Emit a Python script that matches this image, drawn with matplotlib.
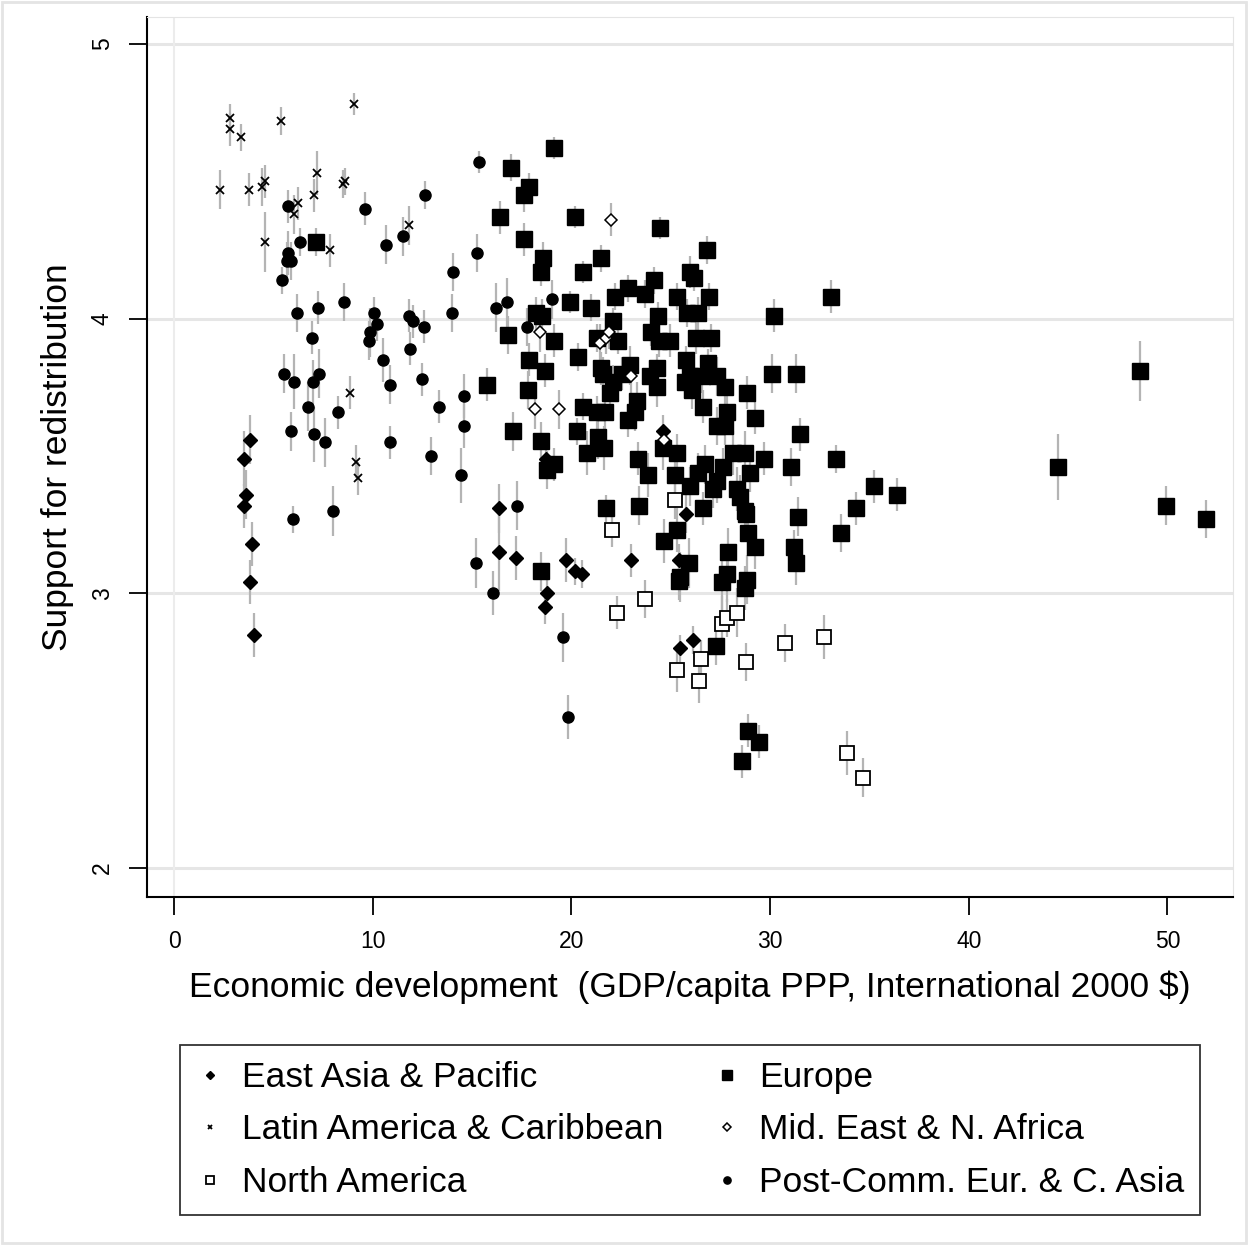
import matplotlib
matplotlib.use("Agg")
import matplotlib.pyplot as plt
from matplotlib.lines import Line2D
from matplotlib.patches import Rectangle

plt.rcParams['font.family'] = ['Liberation Sans', 'DejaVu Sans']

# ---- data: GDP/capita (thousands), support for redistribution, half-width of error bar
ea_x = [3.82, 3.52, 3.62, 3.52, 3.93, 3.82, 4.03, 16.36, 16.36, 17.21, 19.73, 20.18,
        20.53, 23.00, 18.77, 18.67, 25.77, 25.42, 26.12, 25.47, 24.61, 18.72]
ea_y = [3.56, 3.49, 3.36, 3.32, 3.18, 3.04, 2.85, 3.31, 3.15, 3.13, 3.12, 3.08,
        3.07, 3.12, 3.00, 2.95, 3.29, 3.12, 2.83, 2.80, 3.59, 3.49]
ea_e = [0.09, 0.10, 0.09, 0.08, 0.08, 0.08, 0.08, 0.09, 0.14, 0.08, 0.08, 0.05,
        0.05, 0.06, 0.06, 0.06, 0.07, 0.06, 0.05, 0.05, 0.06, 0.05]

la_x = [2.31, 2.82, 2.82, 3.37, 5.38, 9.06, 3.77, 4.43, 4.58, 4.58, 6.04, 6.24,
        7.05, 7.20, 7.85, 8.51, 8.61, 11.83, 8.86, 9.16, 9.26]
la_y = [4.47, 4.73, 4.69, 4.66, 4.72, 4.78, 4.47, 4.48, 4.50, 4.28, 4.38, 4.42,
        4.45, 4.53, 4.25, 4.49, 4.50, 4.34, 3.73, 3.48, 3.42]
la_e = [0.07, 0.05, 0.06, 0.05, 0.05, 0.04, 0.06, 0.07, 0.06, 0.11, 0.07, 0.06,
        0.06, 0.08, 0.06, 0.05, 0.05, 0.07, 0.06, 0.06, 0.06]

na_x = [22.04, 25.21, 22.29, 23.70, 25.31, 26.52, 26.42, 27.58, 27.83, 28.33, 28.79,
        30.75, 32.71, 33.87, 34.68]
na_y = [3.23, 3.34, 2.93, 2.98, 2.72, 2.76, 2.68, 2.89, 2.91, 2.93, 2.75,
        2.82, 2.84, 2.42, 2.33]
na_e = [0.06, 0.07, 0.06, 0.07, 0.08, 0.07, 0.08, 0.10, 0.07, 0.09, 0.07,
        0.07, 0.08, 0.08, 0.07]

me_x = [21.99, 18.42, 18.17, 19.38, 21.44, 21.74, 21.89, 23.00, 24.66]
me_y = [4.36, 3.95, 3.67, 3.67, 3.91, 3.93, 3.95, 3.79, 3.56]
me_e = [0.06, 0.07, 0.07, 0.07, 0.07, 0.06, 0.06, 0.06, 0.05]

pc_x = [5.74, 9.61, 6.34, 5.74, 5.69, 5.89, 5.44, 10.67, 11.52, 6.19, 7.25, 8.56,
        10.07, 10.22, 9.86, 9.81, 6.95, 10.52, 11.88, 11.83, 12.03, 12.58, 5.54,
        6.04, 7.00, 7.30, 6.74, 8.25, 5.89, 7.05, 7.60, 10.87, 12.48, 13.34, 10.87,
        12.93, 5.99, 8.00, 12.63, 15.35, 15.25, 14.04, 13.99, 16.21, 16.76, 19.02,
        17.77, 14.59, 14.59, 14.44, 17.26, 15.20, 16.05, 19.58, 19.83]
pc_y = [4.41, 4.40, 4.28, 4.24, 4.21, 4.21, 4.14, 4.27, 4.30, 4.02, 4.04, 4.06,
        4.02, 3.98, 3.95, 3.92, 3.93, 3.85, 3.89, 4.01, 3.99, 3.97, 3.80,
        3.77, 3.77, 3.80, 3.68, 3.66, 3.59, 3.58, 3.55, 3.76, 3.78, 3.68, 3.55,
        3.50, 3.27, 3.30, 4.45, 4.57, 4.24, 4.17, 4.02, 4.04, 4.06, 4.07,
        3.97, 3.72, 3.61, 3.43, 3.32, 3.11, 3.00, 2.84, 2.55]
pc_e = [0.06, 0.06, 0.05, 0.08, 0.07, 0.07, 0.05, 0.07, 0.07, 0.07, 0.06, 0.07,
        0.06, 0.06, 0.09, 0.07, 0.06, 0.08, 0.06, 0.06, 0.06, 0.06, 0.07,
        0.10, 0.08, 0.09, 0.09, 0.06, 0.07, 0.10, 0.09, 0.07, 0.06, 0.06, 0.06,
        0.07, 0.05, 0.09, 0.05, 0.04, 0.07, 0.07, 0.07, 0.09, 0.09, 0.07,
        0.07, 0.08, 0.08, 0.10, 0.09, 0.09, 0.08, 0.09, 0.08]

eu_x = [19.12, 16.96, 17.87, 17.61, 16.41, 20.18, 17.61, 18.57, 18.47, 21.49, 20.58,
        24.46, 26.82, 25.97, 26.17, 22.85, 22.19, 24.16, 23.70, 25.31, 26.92, 19.93,
        20.99, 30.20, 22.09, 24.36, 25.82, 26.37, 24.01, 21.29, 22.35, 24.41, 24.96,
        26.27, 27.03, 20.33, 25.77, 21.49, 22.95, 22.55, 24.31, 26.87, 30.10, 25.97,
        27.33, 22.09, 21.94, 23.96, 24.31, 25.72, 26.07, 27.73, 28.84, 20.58, 21.29,
        21.69, 23.30, 23.20, 22.85, 26.62, 27.83, 29.24, 27.33, 27.73, 20.28, 21.34,
        21.64, 20.79, 24.61, 25.31, 28.13, 28.74, 29.69, 23.35, 26.72, 27.63, 23.85,
        25.21, 26.37, 28.99, 25.97, 27.33, 27.13, 28.33, 28.49, 28.74, 28.79, 21.74,
        23.40, 26.62, 25.31, 24.66, 28.89, 29.24, 27.88, 25.92, 25.47, 25.42, 27.83,
        27.58, 28.84, 28.74, 27.28, 28.89, 29.44, 28.59, 31.50, 31.05, 33.32, 35.23,
        34.32, 33.57, 31.40, 31.20, 31.30, 33.06, 36.39, 44.49, 48.62, 49.92, 51.94,
        7.15, 15.75, 17.82, 17.06, 18.47, 18.77, 19.12, 18.47, 18.22, 18.52, 16.81,
        19.12, 17.87, 18.67, 21.59, 26.57, 31.30]
eu_y = [4.62, 4.55, 4.48, 4.45, 4.37, 4.37, 4.29, 4.22, 4.17, 4.22, 4.17,
        4.33, 4.25, 4.17, 4.15, 4.11, 4.08, 4.14, 4.09, 4.08, 4.08, 4.06,
        4.04, 4.01, 3.99, 4.01, 4.02, 4.02, 3.95, 3.93, 3.92, 3.92, 3.92,
        3.93, 3.93, 3.86, 3.85, 3.82, 3.83, 3.80, 3.82, 3.84, 3.80, 3.79,
        3.79, 3.77, 3.73, 3.79, 3.75, 3.77, 3.74, 3.75, 3.73, 3.68, 3.66,
        3.66, 3.70, 3.66, 3.63, 3.68, 3.66, 3.64, 3.61, 3.61, 3.59, 3.57,
        3.53, 3.51, 3.53, 3.51, 3.51, 3.51, 3.49, 3.49, 3.47, 3.46, 3.43,
        3.43, 3.44, 3.44, 3.39, 3.41, 3.38, 3.38, 3.35, 3.30, 3.29, 3.31,
        3.32, 3.31, 3.23, 3.19, 3.22, 3.17, 3.15, 3.11, 3.06, 3.045, 3.07,
        3.04, 3.05, 3.02, 2.81, 2.50, 2.46, 2.39, 3.58, 3.46, 3.49, 3.39,
        3.31, 3.22, 3.28, 3.17, 3.11, 4.08, 3.36, 3.46, 3.81, 3.32, 3.27,
        4.28, 3.76, 3.74, 3.59, 3.555, 3.45, 3.47, 3.08, 4.02, 4.01, 3.94,
        3.92, 3.85, 3.81, 3.80, 3.79, 3.80]
eu_e = [0.04, 0.05, 0.05, 0.06, 0.06, 0.04, 0.06, 0.06, 0.05, 0.05, 0.04,
        0.04, 0.05, 0.06, 0.05, 0.05, 0.05, 0.05, 0.05, 0.05, 0.05, 0.04,
        0.05, 0.06, 0.05, 0.05, 0.05, 0.06, 0.05, 0.05, 0.05, 0.06, 0.06,
        0.06, 0.05, 0.05, 0.05, 0.06, 0.07, 0.06, 0.05, 0.05, 0.07, 0.08,
        0.07, 0.06, 0.07, 0.06, 0.07, 0.06, 0.07, 0.07, 0.06, 0.05, 0.06,
        0.06, 0.07, 0.07, 0.06, 0.06, 0.06, 0.06, 0.07, 0.07, 0.05, 0.08,
        0.08, 0.08, 0.08, 0.07, 0.08, 0.08, 0.06, 0.06, 0.07, 0.07, 0.08,
        0.08, 0.07, 0.07, 0.07, 0.08, 0.07, 0.08, 0.08, 0.08, 0.07, 0.05,
        0.07, 0.06, 0.08, 0.08, 0.08, 0.08, 0.09, 0.09, 0.09, 0.07, 0.10,
        0.10, 0.09, 0.08, 0.07, 0.06, 0.06, 0.06, 0.06, 0.07, 0.05, 0.06,
        0.06, 0.07, 0.07, 0.06, 0.08, 0.06, 0.06, 0.12, 0.11, 0.07, 0.07,
        0.05, 0.06, 0.07, 0.07, 0.07, 0.07, 0.06, 0.07, 0.06, 0.06, 0.07,
        0.06, 0.06, 0.06, 0.06, 0.06, 0.07]

legend_labels = ["East Asia & Pacific", "Latin America & Caribbean", "North America",
                 "Europe", "Mid. East & N. Africa", "Post-Comm. Eur. & C. Asia"]

# ---- figure
fig = plt.figure(figsize=(12.48, 12.45), dpi=100)
fig.patches.append(Rectangle((0.002, 0.002), 0.996, 0.996, transform=fig.transFigure,
                             fill=False, edgecolor='#e4e4e4', linewidth=2))
ax = fig.add_axes([0.1178, 0.2795, 0.8702, 0.7068])

for yv in [2, 3, 4, 5]:
    ax.axhline(yv, color='#e6e6e6', linewidth=2.2, zorder=0)
ax.axvline(0, color='#ececec', linewidth=1.5, zorder=0)

ebar_col = '#b4b4b4'
groups = [
    (ea_x, ea_y, ea_e, dict(marker='D', markersize=7, color='black')),
    (la_x, la_y, la_e, dict(marker='x', markersize=5.5, color='black', markeredgewidth=1.3)),
    (na_x, na_y, na_e, dict(marker='s', markersize=9.5, markerfacecolor='white',
                            markeredgecolor='black', markeredgewidth=1.3)),
    (eu_x, eu_y, eu_e, dict(marker='s', markersize=11, color='black')),
    (me_x, me_y, me_e, dict(marker='D', markersize=6, markerfacecolor='white',
                            markeredgecolor='black', markeredgewidth=1.1)),
    (pc_x, pc_y, pc_e, dict(marker='o', markersize=8, color='black')),
]
for gx, gy, ge, st in groups:
    ax.errorbar(gx, gy, yerr=ge, fmt='none', ecolor=ebar_col, elinewidth=1.6, capsize=0, zorder=1)
for gx, gy, ge, st in groups:
    ax.plot(gx, gy, linestyle='none', zorder=3, **st)

ax.set_xlim(-1.36, 53.3)
ax.set_ylim(1.895, 5.098)
ax.set_xticks([0, 10, 20, 30, 40, 50])
ax.set_yticks([2, 3, 4, 5])
ax.tick_params(axis='both', direction='out', length=13, width=1.3, color='black',
               labelsize=16.5, pad=11)
for lab in ax.get_yticklabels():
    lab.set_rotation(90)
    lab.set_va('center')

ax.spines['left'].set_linewidth(1.5)
ax.spines['bottom'].set_linewidth(1.5)
ax.spines['top'].set_color('#e4e4e4')
ax.spines['right'].set_color('#e4e4e4')

ax.set_xlabel("Economic development  (GDP/capita PPP, International 2000 $)", fontsize=25.5,
              labelpad=12)
ax.set_ylabel("Support for redistribution", fontsize=25.5, labelpad=12)

# ---- legend
handles = []
for gx, gy, ge, st in groups:
    s = dict(st)
    s['markersize'] = s['markersize'] * 0.65
    handles.append(Line2D([], [], linestyle='none', **s))
leg = fig.legend(handles, legend_labels, ncol=2, loc='center',
                 bbox_to_anchor=(0.5529, 0.0924), fontsize=25.5, frameon=True,
                 fancybox=False, edgecolor='black', borderpad=0.45, labelspacing=0.55,
                 handletextpad=0.5, columnspacing=1.4, handlelength=0.8)
leg.get_frame().set_linewidth(1.3)

fig.savefig("out.png", dpi=100)
